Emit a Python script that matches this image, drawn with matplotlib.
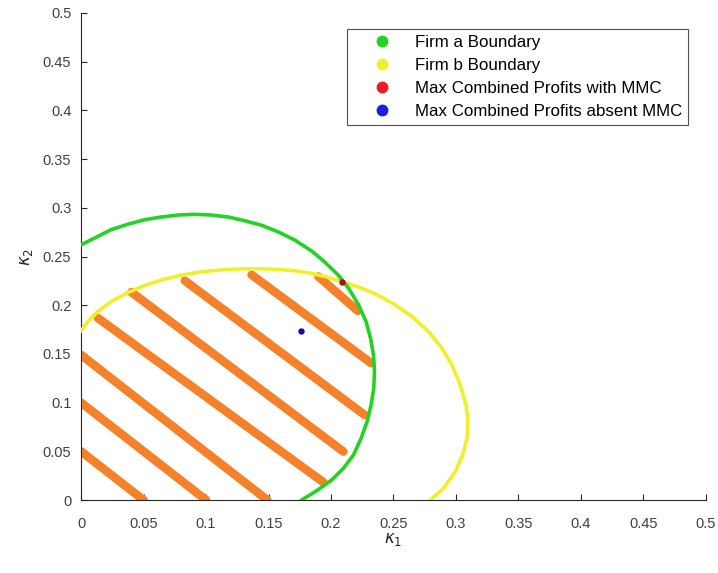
import matplotlib
matplotlib.use('Agg')
from matplotlib import pyplot as plt
from matplotlib.lines import Line2D
from matplotlib.ticker import FormatStrFormatter

# firm a boundary, from the kappa_2 axis round to the kappa_1 axis
firm_a_k1 = [0.000, 0.011, 0.024, 0.038, 0.051, 0.064, 0.078, 0.091, 0.104, 0.118,
             0.131, 0.145, 0.158, 0.171, 0.185, 0.195, 0.206, 0.214, 0.222, 0.228,
             0.2316, 0.234, 0.2348, 0.2342, 0.2321, 0.2289, 0.2241, 0.218, 0.2099,
             0.2006, 0.1886, 0.1766]
firm_a_k2 = [0.262, 0.269, 0.2775, 0.2833, 0.2878, 0.2905, 0.2926, 0.2933, 0.2926, 0.2905,
             0.2867, 0.2819, 0.2751, 0.2669, 0.2552, 0.2443, 0.2306, 0.2175, 0.2004, 0.1833,
             0.1662, 0.149, 0.1319, 0.1148, 0.0976, 0.0805, 0.0634, 0.0462, 0.0325,
             0.0206, 0.0096, 0.000]

# firm b boundary
firm_b_k1 = [0.000, 0.0056, 0.0136, 0.0243, 0.0377, 0.051, 0.0644, 0.0777, 0.0911, 0.1044,
             0.1178, 0.1311, 0.1445, 0.1579, 0.1712, 0.1846, 0.1979, 0.2113, 0.2246, 0.238,
             0.2513, 0.2647, 0.278, 0.2887, 0.2967, 0.3034, 0.308, 0.3096, 0.3088, 0.3053,
             0.2994, 0.290, 0.2794]
firm_b_k2 = [0.1737, 0.1833, 0.1936, 0.2038, 0.2131, 0.2203, 0.2258, 0.2302, 0.2333, 0.2354,
             0.2367, 0.2374, 0.2374, 0.2367, 0.2354, 0.2326, 0.2285, 0.223, 0.2175, 0.210,
             0.2004, 0.1884, 0.173, 0.1559, 0.1387, 0.1182, 0.0976, 0.0805, 0.0634, 0.0462,
             0.0291, 0.012, 0.000]

# iso-profit segments inside both boundaries (start on the upper edge, end on the lower)
hatch_k1_start = [0.000, 0.000, 0.000, 0.0136, 0.0403, 0.0831, 0.1365, 0.1899]
hatch_k2_start = [0.050, 0.100, 0.149, 0.1867, 0.2134, 0.2251, 0.2312, 0.2295]
hatch_k1_end = [0.050, 0.100, 0.149, 0.1939, 0.2099, 0.2268, 0.2321, 0.2214]
hatch_k2_end = [0.000, 0.000, 0.000, 0.0182, 0.0497, 0.0874, 0.1405, 0.1942]

max_mmc = (0.2086, 0.2237)
max_no_mmc = (0.176, 0.173)

tick_values = [0, 0.05, 0.1, 0.15, 0.2, 0.25, 0.3, 0.35, 0.4, 0.45, 0.5]

legend_labels = ['Firm a Boundary', 'Firm b Boundary',
                 'Max Combined Profits with MMC', 'Max Combined Profits absent MMC']

GREEN = '#22d322'
YELLOW = '#f0f028'
ORANGE = '#f5822a'

plt.rcParams['font.family'] = ['Liberation Sans', 'DejaVu Sans']
plt.rcParams['mathtext.fontset'] = 'dejavusans'

fig = plt.figure(figsize=(7.18, 5.73), dpi=100)
ax = fig.add_axes([81 / 718, 73 / 573, 625 / 718, 487 / 573])

for x0, y0, x1, y1 in zip(hatch_k1_start, hatch_k2_start, hatch_k1_end, hatch_k2_end):
    ax.plot([x0, x1], [y0, y1], color=ORANGE, lw=6.2, solid_capstyle='round', zorder=2)

ax.plot(firm_b_k1, firm_b_k2, color=YELLOW, lw=2.6, zorder=3)
ax.plot(firm_a_k1, firm_a_k2, color=GREEN, lw=2.6, zorder=4)
ax.plot(*max_no_mmc, 'o', color='#1010a8', ms=3.6, zorder=5)
ax.plot(*max_mmc, 'o', color='#a81010', ms=3.6, zorder=5)

ax.set_xlim(0, 0.5)
ax.set_ylim(0, 0.5)
ax.set_xticks(tick_values)
ax.set_yticks(tick_values)
ax.xaxis.set_major_formatter(FormatStrFormatter('%g'))
ax.yaxis.set_major_formatter(FormatStrFormatter('%g'))
ax.spines['top'].set_visible(False)
ax.spines['right'].set_visible(False)
for side in ('left', 'bottom'):
    ax.spines[side].set_color('#262626')
    ax.spines[side].set_linewidth(0.8)
ax.tick_params(direction='in', length=4, width=0.8, color='#262626',
               labelsize=10.5, labelcolor='#404040')
ax.tick_params(axis='x', pad=12)
ax.tick_params(axis='y', pad=7)

ax.set_xlabel(r'$\kappa_1$', fontsize=12, color='#262626')
ax.set_ylabel(r'$\kappa_2$', fontsize=12, color='#262626')
ax.xaxis.set_label_coords(0.5, -0.064)
ax.yaxis.set_label_coords(-0.074, 0.5)

handles = [Line2D([], [], ls='none', marker='o', ms=7.5, color=c)
           for c in (GREEN, YELLOW, '#ee1c1c', '#1c1cee')]
leg = ax.legend(handles, legend_labels, loc='upper left',
                bbox_to_anchor=(0.4256, 0.967), borderaxespad=0,
                fontsize=12.2, frameon=True, fancybox=False,
                borderpad=0.35, handlelength=3.38, handletextpad=0.27,
                labelspacing=0.47)
leg.get_frame().set_edgecolor('#262626')
leg.get_frame().set_linewidth(0.8)

fig.savefig('out.png', dpi=100, facecolor='white')
